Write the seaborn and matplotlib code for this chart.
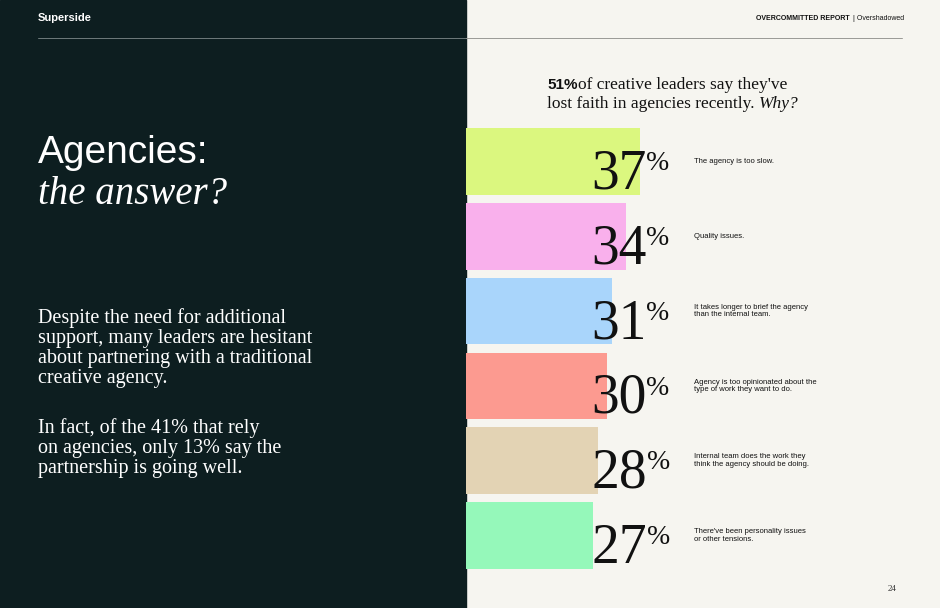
import seaborn as sns
import matplotlib.pyplot as plt
import pandas as pd

reasons = ["The agency is too slow.",
           "Quality issues.",
           "It takes longer to brief the agency\nthan the internal team.",
           "Agency is too opinionated about the\ntype of work they want to do.",
           "Internal team does the work they\nthink the agency should be doing.",
           "There've been personality issues\nor other tensions."]
shares = [37, 34, 31, 30, 28, 27]
colors = ["#dbf77f", "#f9b0ec", "#a9d5fb", "#fc9a90", "#e3d3b4", "#95f8ba"]

df = pd.DataFrame({"reason": reasons, "share": shares})

sns.set_theme(style="white")
plt.rcParams['font.family'] = ['Liberation Sans', 'DejaVu Sans']
fig = plt.figure(figsize=(9.4, 6.08), dpi=100)
fig.patch.set_facecolor("#f6f5f0")
W, H = 940, 608
fx = lambda x: x / W
fy = lambda y: 1 - y / H

# dark left panel
fig.add_artist(plt.Rectangle((0, 0), fx(466), 1, transform=fig.transFigure,
                             color="#0d1e20", zorder=0))
fig.add_artist(plt.Line2D([fx(38), fx(466)], [fy(38), fy(38)], color="#6f7a7b", lw=0.7))
fig.add_artist(plt.Line2D([fx(466), fx(902)], [fy(38), fy(38)], color="#9a9a96", lw=0.7))
fig.text(fx(38), fy(18), "Superside", color="white", fontsize=8, fontweight="bold", va="center")
fig.text(fx(850), fy(18), "OVERCOMMITTED REPORT", color="#111", fontsize=5,
         fontweight="bold", va="center", ha="right")
fig.text(fx(853), fy(18), "| Overshadowed", color="#111", fontsize=5, va="center")
fig.text(fx(38), fy(153), "Agencies:", color="white", fontsize=28, va="center")
fig.text(fx(38), fy(195), "the answer?", color="white", fontsize=28, va="center",
         family="Liberation Serif", style="italic")
serif = dict(color="white", fontsize=14.5, family="Liberation Serif", va="top",
             linespacing=1.08)
fig.text(fx(38), fy(308), "Despite the need for additional\nsupport, many leaders are hesitant\n"
         "about partnering with a traditional\ncreative agency.", **serif)
fig.text(fx(38), fy(418), "In fact, of the 41% that rely\non agencies, only 13% say the\n"
         "partnership is going well.", **serif)
fig.text(fx(547), fy(85), "51%", color="#111", fontsize=11, fontweight="bold", va="center")
fig.text(fx(578), fy(85), "of creative leaders say they've", color="#111", fontsize=12.5,
         family="Liberation Serif", va="center")
tlost = fig.text(fx(547), fy(104), "lost faith in agencies recently.", color="#111",
                 fontsize=12.5, family="Liberation Serif", va="center")
fig.add_artist(plt.Annotation("Why?", xy=(1, 0.5), xycoords=tlost, xytext=(3, 0),
                              textcoords="offset points", color="#111", fontsize=12.5,
                              family="Liberation Serif", style="italic", va="center"))
fig.text(fx(897), fy(589), "24", color="#333", fontsize=6.5, family="Liberation Serif",
         ha="right", va="center")

# bar axes
ax = fig.add_axes([fx(466), fy(573), fx(940 - 466), (573 - 124) / H])
ax.set_facecolor("none")
sns.barplot(data=df, x="share", y="reason", hue="reason", palette=colors, saturation=1,
            orient="h", width=0.89, legend=False, linewidth=0, ax=ax)
ax.set_xlim(0, (940 - 466) / 4.7)
ax.axis("off")
for i, (r, s) in enumerate(zip(reasons, shares)):
    num = ax.text(26.6, i + 0.36, f"{s}", fontsize=40, family="Liberation Serif",
                  color="#111", va="baseline", ha="left")
    ax.annotate("%", xy=(1, 1), xycoords=num, xytext=(0, -2), textcoords="offset points",
                fontsize=20, family="Liberation Serif", color="#111", va="top", ha="left")
    ax.text(48.5, i, r, fontsize=5.5, color="#111", va="center", ha="left",
            linespacing=1.1)

fig.savefig("out.png", dpi=100, facecolor=fig.get_facecolor())
